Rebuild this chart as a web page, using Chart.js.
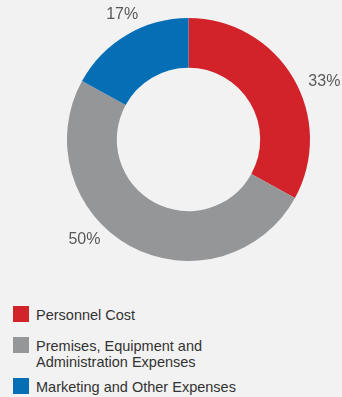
<!DOCTYPE html>
<html>
<head>
<meta charset="utf-8">
<script src="https://cdn.jsdelivr.net/npm/chart.js@4/dist/chart.umd.min.js"></script>
<style>
  html, body { margin: 0; padding: 0; background: #f2f2f2; }
  body { width: 342px; height: 397px; position: relative; overflow: hidden; font-family: "Liberation Sans", Arial, sans-serif; }
  #wrap { position: absolute; left: 0; top: 0; width: 342px; height: 280px; }
  .legend { position: absolute; left: 13px; }
  .legend .box { position: absolute; left: 0; top: 0; width: 16px; height: 16px; }
  .legend .txt { position: absolute; left: 23px; top: 1px; font-size: 14.5px; line-height: 16px; color: #333; white-space: nowrap; }
</style>
</head>
<body>
<div id="wrap"><canvas id="chart"></canvas></div>
<div id="legend"></div>
<script>
// expense breakdown (%)
const categories = ['Personnel Cost', 'Premises, Equipment and\nAdministration Expenses', 'Marketing and Other Expenses'];
const shares = [33, 50, 17];
const colors = ['#d2232a', '#959698', '#066eb5'];
const legendTops = [306, 337, 378];

// percentage labels outside the ring
const pctLabels = {
  id: 'pctLabels',
  afterDatasetsDraw(chart, args, opts) {
    const ctx = chart.ctx;
    const arcs = chart.getDatasetMeta(0).data;
    ctx.save();
    ctx.font = '16px "Liberation Sans", Arial, sans-serif';
    ctx.fillStyle = '#595959';
    ctx.textAlign = 'center';
    ctx.textBaseline = 'middle';
    arcs.forEach((arc, i) => {
      const p = arc.getProps(['x', 'y', 'startAngle', 'endAngle', 'outerRadius'], true);
      const a = p.startAngle + opts.along[i] * (p.endAngle - p.startAngle);
      const txt = shares[i] + '%';
      const hw = ctx.measureText(txt).width / 2;
      const r = p.outerRadius + opts.gap;
      const x = p.x + r * Math.cos(a) + hw * Math.cos(a);
      const y = p.y + r * Math.sin(a) + 6 * Math.sin(a);
      ctx.fillText(txt, x, y);
    });
    ctx.restore();
  }
};

new Chart(document.getElementById('chart'), {
  type: 'doughnut',
  data: {
    labels: categories,
    datasets: [{
      data: shares,
      backgroundColor: colors,
      borderWidth: 0
    }]
  },
  options: {
    responsive: true,
    maintainAspectRatio: false,
    animation: false,
    cutout: '59%',
    layout: { padding: { left: 67, right: 32, top: 18, bottom: 19 } },
    plugins: {
      legend: { display: false },
      tooltip: { enabled: false },
      pctLabels: { along: [0.55, 0.585, 0.57], gap: 12 }
    }
  },
  plugins: [pctLabels]
});

// html legend
const leg = document.getElementById('legend');
categories.forEach((c, i) => {
  const item = document.createElement('div');
  item.className = 'legend';
  item.style.top = legendTops[i] + 'px';
  item.innerHTML = '<div class="box" style="background:' + colors[i] + '"></div>' +
    '<div class="txt">' + c.replace('\n', '<br>') + '</div>';
  leg.appendChild(item);
});
</script>
</body>
</html>
